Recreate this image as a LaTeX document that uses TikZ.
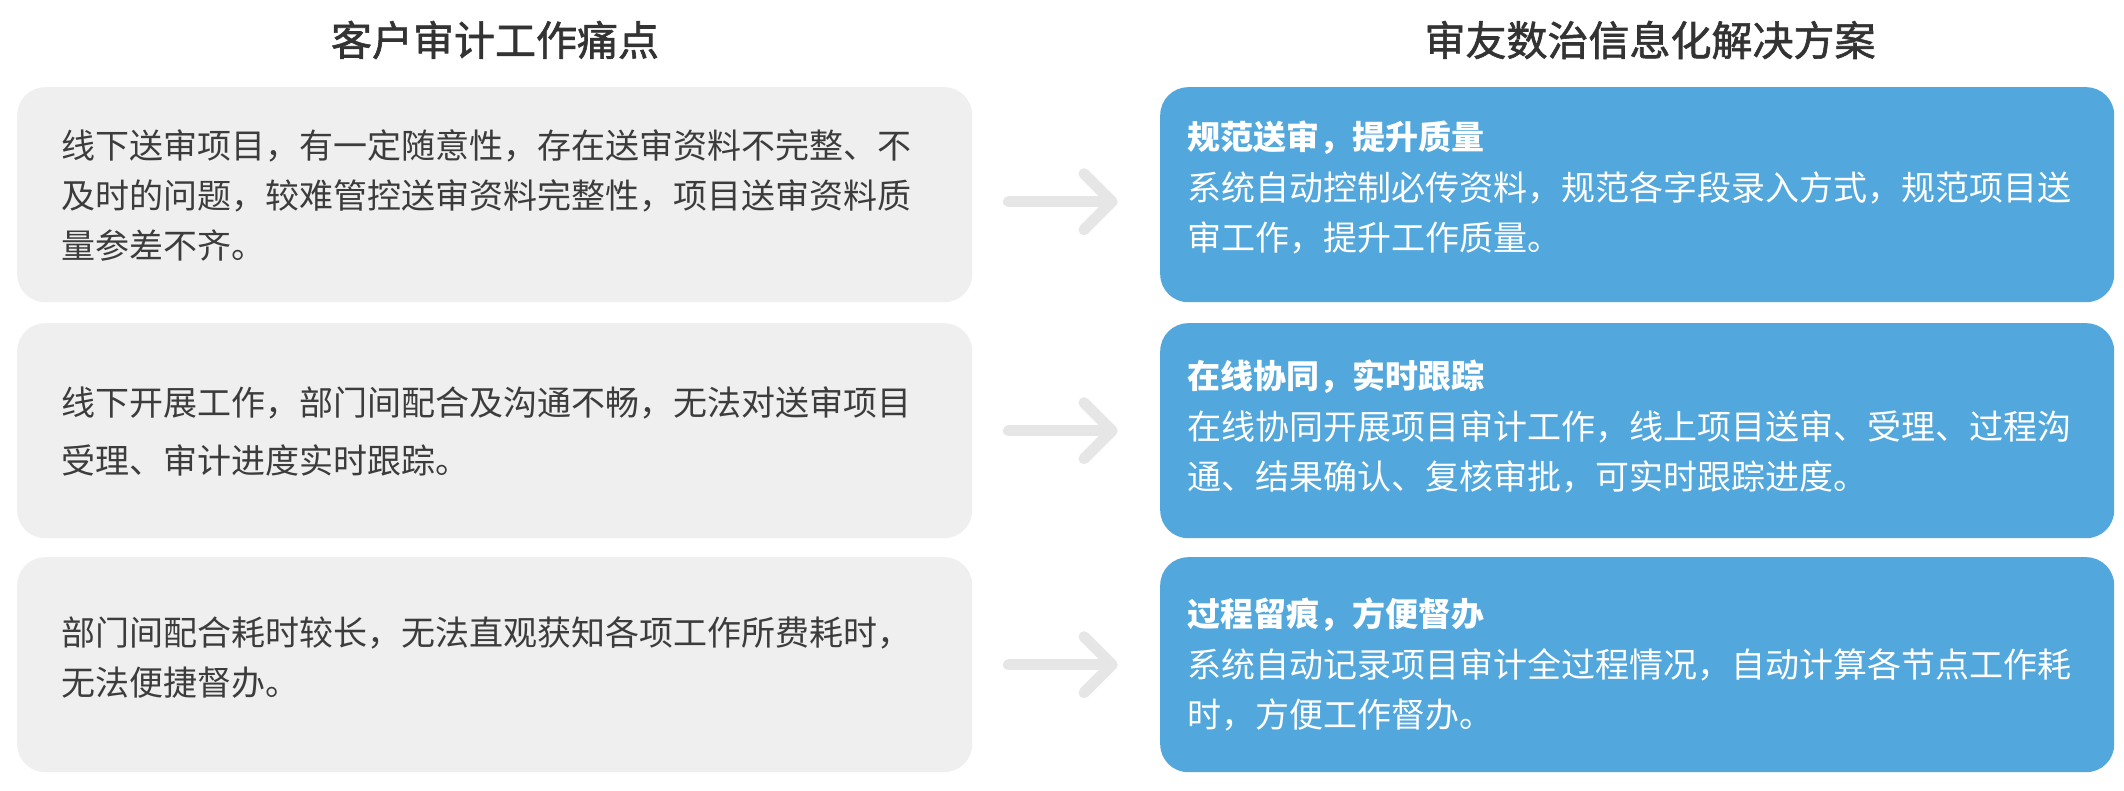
\documentclass[tikz,border=0pt]{standalone}
\usepackage{fontspec}
\newfontfamily\cjk{Noto Sans CJK SC}
\newfontfamily\cjktitle[FakeBold=1.5]{Noto Sans CJK SC}
\usetikzlibrary{calc}
\definecolor{boxgray}{HTML}{EFEFEF}
\definecolor{boxblue}{HTML}{52A7DC}
\definecolor{arrgray}{HTML}{E6E6E6}
\definecolor{titlec}{HTML}{333333}
\definecolor{bodyc}{HTML}{3C3C3C}
\begin{document}
\begin{tikzpicture}[x=1pt,y=-1pt,
  graybox/.style={fill=boxgray,rounded corners=28pt,minimum width=955pt,minimum height=215pt,inner sep=0pt,anchor=north west},
  bluebox/.style={fill=boxblue,rounded corners=28pt,minimum width=954pt,minimum height=215pt,inner sep=0pt,anchor=north west},
  titletext/.style={font=\cjktitle\fontsize{41}{50}\selectfont,text=titlec,inner sep=0pt},
  lefttext/.style={font=\cjk\fontsize{34}{50}\selectfont,text=bodyc,align=left,anchor=west,inner sep=0pt},
  headtext/.style={font=\cjk\bfseries\fontsize{33}{50}\selectfont,text=white,align=left,anchor=west,inner sep=0pt},
  bodytext/.style={font=\cjk\fontsize{34}{50}\selectfont,text=white,align=left,anchor=west,inner sep=0pt},
  arr/.style={draw=arrgray,line width=11pt,line cap=round,line join=round}
]
\useasboundingbox[fill=white] (0,0) rectangle (2124,790);

% titles
\node[titletext] (t1) at (495,40) {客户审计工作痛点};
\node[titletext] (t2) at (1650,40) {审友数治信息化解决方案};

% boxes
\node[graybox] (L1) at (17,87) {};
\node[graybox] (L2) at (17,323) {};
\node[graybox] (L3) at (17,557) {};
\node[bluebox] (R1) at (1160,87) {};
\node[bluebox] (R2) at (1160,323) {};
\node[bluebox] (R3) at (1160,557) {};

% left texts
\node[lefttext] (l1) at (61,195) {线下送审项目，有一定随意性，存在送审资料不完整、不\\及时的问题，较难管控送审资料完整性，项目送审资料质\\量参差不齐。};
\node[lefttext,font=\cjk\fontsize{34}{58}\selectfont] (l2) at (61,431) {线下开展工作，部门间配合及沟通不畅，无法对送审项目\\受理、审计进度实时跟踪。};
\node[lefttext] (l3) at (61,658) {部门间配合耗时较长，无法直观获知各项工作所费耗时，\\无法便捷督办。};

% right texts
\node[headtext] (h1) at (1187,138) {规范送审，提升质量};
\node[bodytext] (b1) at (1187,213) {系统自动控制必传资料，规范各字段录入方式，规范项目送\\审工作，提升工作质量。};
\node[headtext] (h2) at (1187,377) {在线协同，实时跟踪};
\node[bodytext] (b2) at (1187,452) {在线协同开展项目审计工作，线上项目送审、受理、过程沟\\通、结果确认、复核审批，可实时跟踪进度。};
\node[headtext] (h3) at (1187,615) {过程留痕，方便督办};
\node[bodytext] (b3) at (1187,690) {系统自动记录项目审计全过程情况，自动计算各节点工作耗\\时，方便工作督办。};

% arrows
\foreach \a/\b/\dy in {L1/R1/7, L2/R2/0, L3/R3/0}{
  \coordinate (s) at ($(\a.east)+(36,\dy)$);
  \coordinate (e) at ($(\b.west)+(-48,\dy)$);
  \draw[arr] (s) -- (e);
  \draw[arr] ($(e)+(-28,-28)$) -- (e) -- ($(e)+(-28,28)$);
}
\end{tikzpicture}
\end{document}
